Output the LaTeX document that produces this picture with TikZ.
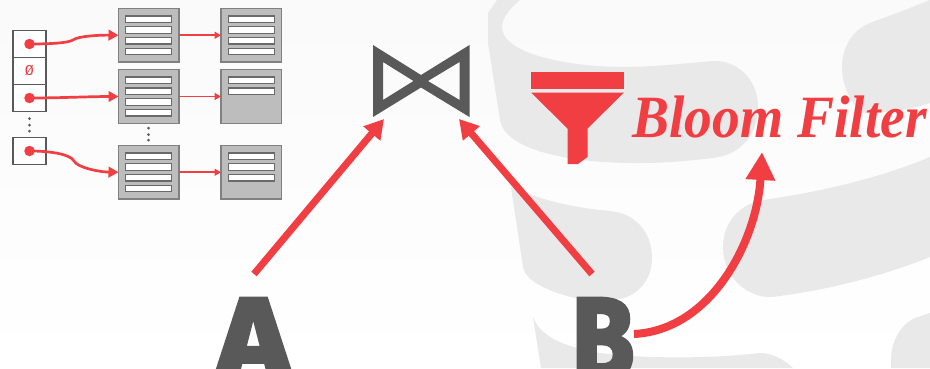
\documentclass[tikz,border=0pt]{standalone}
\usepackage{fontspec}
\setmainfont{Liberation Sans}
\newfontfamily\bloomfont{Liberation Serif}
\newfontfamily\heavyfont{Fira Sans}[UprightFont=* Bold,FakeBold=3.5]
\newfontfamily\slotfont{Liberation Mono}
\usetikzlibrary{arrows.meta,calc}
\definecolor{accent}{HTML}{F03E43}
\definecolor{darkgrey}{HTML}{595959}
\definecolor{wm}{HTML}{E9E9E9}
\definecolor{pagefill}{HTML}{BDBDBD}
\definecolor{pageline}{HTML}{818181}
\tikzset{
  x=1pt,y=-1pt,
  wmshape/.style={fill=wm,draw=none},
  slotbox/.style={draw=darkgrey,line width=1.4pt,fill=white,minimum width=33pt,minimum height=27pt,inner sep=0pt,outer sep=0pt},
  pagebox/.style={draw=pageline,line width=1.4pt,fill=pagefill,minimum width=60.5pt,minimum height=53.5pt,inner sep=0pt,outer sep=0pt},
  rowbox/.style={draw=darkgrey!90,line width=1.3pt,fill=white,minimum width=46pt,minimum height=6.5pt,inner sep=0pt},
  ptr/.style={draw=accent,line width=2.7pt,-{Triangle[length=10pt,width=10.5pt]}},
  link/.style={draw=accent,line width=1.7pt,-{Triangle[length=6.5pt,width=7pt]}},
  bigarrow/.style={draw=accent,line width=7pt,-{Triangle[length=19pt,width=21pt]}},
  dotmark/.style={circle,fill=darkgrey,minimum size=3pt,inner sep=0pt},
  reddot/.style={circle,fill=accent,minimum size=10.5pt,inner sep=0pt},
  bigletter/.style={font=\heavyfont\fontsize{116}{116}\selectfont,text=darkgrey,inner sep=0pt,anchor=base},
}
\begin{document}
\begin{tikzpicture}
\useasboundingbox (0,0) rectangle (930,368);
\clip (0,0) rectangle (930,368);
\shade[top color=black!2,bottom color=white,middle color=black!1] (0,0) rectangle (930,368);
% watermark
\path[wmshape] (497,0) -- (488,13) -- (488,43) -- (500,120) .. controls (505,150) and (570,164) .. (643,163) .. controls (670,163) and (695,160) .. (713,158) .. controls (740,155) and (758,135) .. (758,107) .. controls (758,80) and (738,60) .. (713,61) .. controls (680,64) and (650,67) .. (620,67) .. controls (560,66) and (502,52) .. (502,27) .. controls (502,18) and (510,8) .. (520,0) -- cycle;
\path[wmshape] (511,187) .. controls (540,200) and (575,208) .. (610,211) .. controls (635,213) and (652,232) .. (652,258) .. controls (652,280) and (638,295) .. (620,299) -- (575,298) .. controls (550,292) and (526,282) .. (523,267) -- cycle;
\path[wmshape] (533,317) .. controls (540,335) and (560,345) .. (590,351) .. controls (620,358) and (700,360) .. (760,353) .. controls (772,353) and (785,360) .. (793,368) -- (541,368) -- cycle;
\path[wmshape] (930,157) .. controls (880,178) and (820,192) .. (763,200) -- (750,204) .. controls (733,212) and (723,228) .. (723,247) .. controls (723,275) and (745,298) .. (772,297) .. controls (830,290) and (885,275) .. (930,257) -- cycle;
\path[wmshape] (930,0) -- (905,10) -- (870,23) .. controls (852,30) and (842,48) .. (842,67) .. controls (842,85) and (850,103) .. (863,113) .. controls (885,113) and (910,110) .. (930,103) -- cycle;
\path[wmshape] (930,313) -- (915,318) .. controls (900,325) and (891,342) .. (891,360) -- (891,368) -- (930,368) -- cycle;
% slots
\node[slotbox] (s1) at (29.5,44) {};
\node[slotbox] (s2) at (29.5,71) {\slotfont\fontsize{15}{15}\selectfont\textcolor{accent}{Ø}};
\node[slotbox] (s3) at (29.5,98) {};
\node[slotbox] (s4) at (29.5,151) {};
\node[reddot] (d1) at (s1.center) {};
\node[reddot] (d3) at (s3.center) {};
\node[reddot] (d4) at (s4.center) {};
% pages
\node[pagebox] (p1) at (148.75,35.25) {};
\node[pagebox] (p2) at (148.75,96.5) {};
\node[pagebox] (p3) at (148.75,172.25) {};
\node[pagebox] (q1) at (251.25,35.25) {};
\node[pagebox] (q2) at (251.25,96.5) {};
\node[pagebox] (q3) at (251.25,172.25) {};
\foreach \p/\n in {p1/4,p2/4,p3/4,q1/4,q2/2,q3/3}{
  \foreach \i in {1,...,\n}{
    \node[rowbox] at ($(\p.north)+(0,-0.2+11*\i-0.2*\i)$) {};
  }
}
% dots
\foreach \y in {118.5,125,131}{\node[dotmark] at (29.5,\y) {};}
\foreach \y in {128,134.5,140}{\node[dotmark] at (148.5,\y) {};}
% connectors
\draw[ptr] (d1.center) .. controls (50,44) and (68,43) .. (73,40) .. controls (78,36) and (100,35) .. (p1.west);
\draw[ptr] (d3.center) .. controls (60,98) and (90,96.5) .. (p2.west);
\draw[ptr] (d4.center) .. controls (50,151) and (70,154) .. (74,161) .. controls (78,168) and (100,172) .. (p3.west);
\draw[link] (p1.east) -- (q1.west);
\draw[link] (p2.east) -- (q2.west);
\draw[link] (p3.east) -- (q3.west);
% join
\path[fill=darkgrey,even odd rule] (373,45) -- (421,75) -- (469.5,45) -- (469.5,117) -- (421,87.5) -- (373,117) -- cycle
  (383,62) -- (413.5,81) -- (383,100) -- cycle
  (459.5,62) -- (428,81) -- (459.5,100) -- cycle;
\coordinate (joinL) at (384,119);
\coordinate (joinR) at (459,119);
% letters
\node[bigletter] (A) at (253.5,379) {\scalebox{1.08}[1]{A}};
\node[bigletter] (B) at (603,379) {\scalebox{0.87}[1]{B}};
\coordinate (Afrom) at (254,274);
\coordinate (Bfrom) at (592,274);
\coordinate (Bside) at (634,334);
\draw[bigarrow] (Afrom) -- (joinL);
\draw[bigarrow] (Bfrom) -- (joinR);
% funnel
\fill[accent] (531,72) rectangle (624,89);
\fill[accent] (531,92.5) -- (624,92.5) -- (587.5,128.5) -- (587.5,157) -- (578,164) -- (567.5,164) -- (567.5,128.5) -- cycle;
% bloom
\node[anchor=base west,inner sep=0pt,text=accent,font=\bloomfont\bfseries\itshape\fontsize{60}{60}\selectfont] (bloom) at (632,137) {\scalebox{0.925}[1]{Bloom Filter}};
\coordinate (bloomin) at (762,152);
\draw[draw=accent,line width=8pt,-{Triangle[length=28pt,width=28pt]}] (Bside) .. controls (712,330) and (757,240) .. (bloomin);
\end{tikzpicture}
\end{document}
